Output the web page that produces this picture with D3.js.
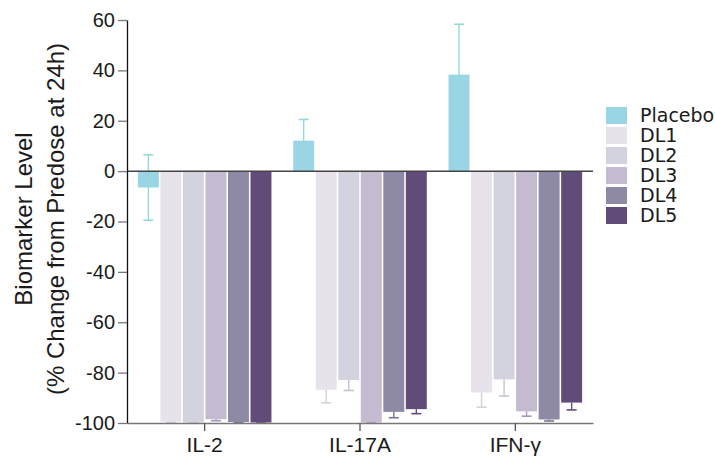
<!DOCTYPE html>
<html>
<head>
<meta charset="utf-8">
<script src="https://cdn.jsdelivr.net/npm/d3@7"></script>
<style>
  body { margin: 0; background: #fff; }
  svg { display: block; }
  .tick text { fill: #1a1a1a; }
</style>
</head>
<body>
<svg id="chart" width="715" height="459"></svg>
<script>
// ── Data ──
const categories = ["IL-2", "IL-17A", "IFN-γ"];
const series = ["Placebo", "DL1", "DL2", "DL3", "DL4", "DL5"];
const colors = ["#9ad5e6", "#e8e3ea", "#d3d3df", "#c5bbd0", "#8e8aa6", "#614b78"];
const errColors = ["#93d9d9", "#d6cfd8", "#c4c4d0", "#a597b3", "#7b7695", "#614b78"];

// mean % change per series, one entry per category
const means = [
  [-6.5, 12.1, 38.3],    // Placebo
  [-99.5, -86.8, -87.9], // DL1
  [-99.8, -82.9, -82.7], // DL2
  [-98.5, -99.8, -95.4], // DL3
  [-99.6, -95.6, -98.6], // DL4
  [-99.8, -94.5, -91.9]  // DL5
];
const errors = [
  [13.0, 8.4, 20.0],
  [0.3, 5.2, 5.8],
  [0.2, 4.2, 6.6],
  [0.6, 0.2, 1.9],
  [0.3, 2.3, 0.6],
  [0.2, 1.8, 2.9]
];
const yTicks = [60, 40, 20, 0, -20, -40, -60, -80, -100];

// ── Layout ──
const plotLeft = 127, plotRight = 593, plotTop = 20, plotBottom = 423;
const svg = d3.select("#chart");

const y = d3.scaleLinear().domain([-100, 60]).range([plotBottom, plotTop]);
const x0 = d3.scaleBand().domain(categories).range([plotLeft, plotRight])
  .paddingInner(0.14).paddingOuter(0.07);
const x1 = d3.scaleBand().domain(series).range([0, x0.bandwidth()])
  .paddingInner(0.07).paddingOuter(0);

const rows = [];
series.forEach((s, si) => {
  categories.forEach((c, ci) => {
    rows.push({ s, si, c, v: means[si][ci], e: errors[si][ci] });
  });
});

// ── Bars ──
const bars = svg.append("g");
bars.selectAll("rect")
  .data(rows)
  .join("rect")
  .attr("x", d => x0(d.c) + x1(d.s))
  .attr("width", x1.bandwidth())
  .attr("y", d => Math.min(y(d.v), y(0)))
  .attr("height", d => Math.abs(y(d.v) - y(0)))
  .attr("fill", d => colors[d.si]);

// ── Error bars (placebo shows both halves, dose levels only the outer half) ──
const eb = svg.append("g");
rows.forEach(d => {
  const cx = x0(d.c) + x1(d.s) + x1.bandwidth() / 2;
  const outer = d.v >= 0 ? d.v + d.e : d.v - d.e;
  const inner = d.si === 0 ? (d.v >= 0 ? d.v - d.e : d.v + d.e) : d.v;
  const col = errColors[d.si];
  eb.append("line")
    .attr("x1", cx).attr("x2", cx)
    .attr("y1", y(inner)).attr("y2", y(outer))
    .attr("stroke", col).attr("stroke-width", 1.4);
  [outer].concat(d.si === 0 ? [inner] : []).forEach(v => {
    eb.append("line")
      .attr("x1", cx - 5).attr("x2", cx + 5)
      .attr("y1", y(v)).attr("y2", y(v))
      .attr("stroke", col).attr("stroke-width", 1.6);
  });
});

// ── Zero line ──
svg.append("line")
  .attr("x1", plotLeft).attr("x2", plotRight)
  .attr("y1", y(0)).attr("y2", y(0))
  .attr("stroke", "#444").attr("stroke-width", 1.5);

// ── Axes ──
const yAxis = svg.append("g")
  .attr("transform", `translate(${plotLeft},0)`)
  .call(d3.axisLeft(y).tickValues(yTicks).tickFormat(d => String(d))
    .tickSize(9).tickPadding(3).tickSizeOuter(0));
yAxis.select(".domain").attr("stroke", "#111").attr("stroke-width", 1.3);
yAxis.selectAll(".tick line").attr("stroke", "#777").attr("stroke-width", 1.3);
yAxis.selectAll(".tick text")
  .attr("font-family", "'Liberation Sans', Arial, sans-serif")
  .attr("font-size", 20);

const xAxis = svg.append("g")
  .attr("transform", `translate(0,${plotBottom})`)
  .call(d3.axisBottom(x0).tickSize(8).tickPadding(6).tickSizeOuter(0));
xAxis.select(".domain").attr("stroke", "#777").attr("stroke-width", 1.5);
xAxis.selectAll(".tick line").attr("stroke", "#555").attr("stroke-width", 1.3);
xAxis.selectAll(".tick text")
  .attr("font-family", "'Liberation Sans', Arial, sans-serif")
  .attr("font-size", 21)
  .attr("fill", "#1a1a1a");

// ── Y axis title ──
const midY = 219;
const title = svg.append("text")
  .attr("transform", `translate(0,${midY}) rotate(-90)`)
  .attr("text-anchor", "middle")
  .attr("font-family", "'Liberation Sans', Arial, sans-serif")
  .attr("font-size", 24)
  .attr("fill", "#1a1a1a");
title.append("tspan").attr("x", 0).attr("y", 32).text("Biomarker Level");
title.append("tspan").attr("x", 0).attr("y", 64).text("(% Change from Predose at 24h)");

// ── Legend ──
const legend = svg.append("g").attr("transform", "translate(606,107)");
const item = legend.selectAll("g")
  .data(series)
  .join("g")
  .attr("transform", (d, i) => `translate(0,${i * 20})`);
item.append("rect")
  .attr("width", 21).attr("height", 17)
  .attr("fill", (d, i) => colors[i]);
item.append("text")
  .attr("x", 34).attr("y", 8.5)
  .attr("dy", "0.36em")
  .attr("font-family", "'DejaVu Sans', Verdana, sans-serif")
  .attr("font-size", 19)
  .attr("fill", "#1a1a1a")
  .text(d => d);
</script>
</body>
</html>
